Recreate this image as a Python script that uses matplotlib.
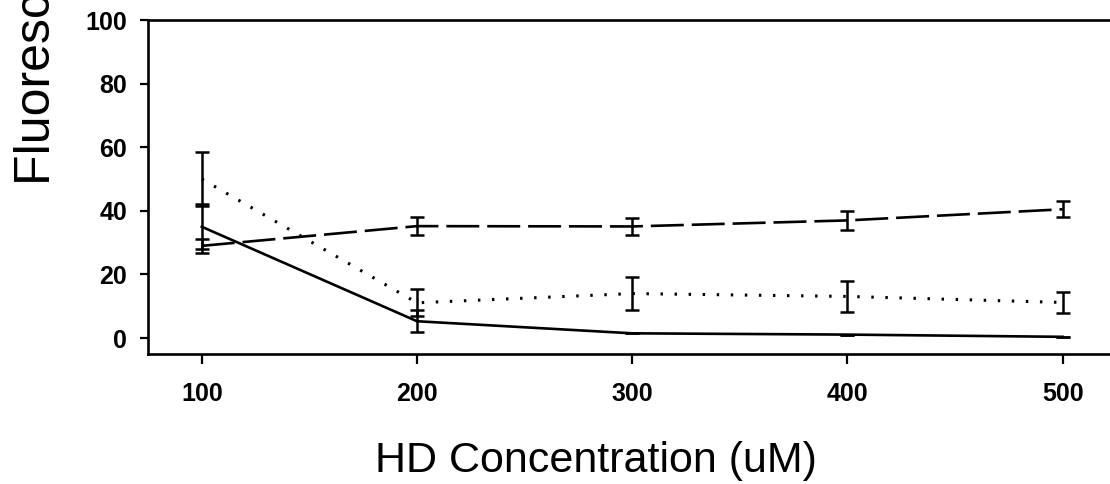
import matplotlib
matplotlib.use("Agg")
import matplotlib.pyplot as plt

# ---- data ----
concentration = [100, 200, 300, 400, 500]
solid_vals = [35.0, 5.3, 1.5, 1.1, 0.4]
solid_err = [7.0, 3.5, 0.0, 0.0, 0.0]
dotted_vals = [50.0, 11.1, 14.0, 13.1, 11.2]
dotted_err = [8.6, 4.3, 5.1, 4.9, 3.3]
dashed_vals = [29.0, 35.2, 35.1, 37.0, 40.5]
dashed_err = [2.2, 2.9, 2.6, 3.0, 2.5]
x_ticks = [100, 200, 300, 400, 500]
y_ticks = [0, 20, 40, 60, 80, 100]
x_label = "HD Concentration (uM)"
y_label = "Fluorescence (%)"

plt.rcParams['font.family'] = ['Liberation Sans', 'DejaVu Sans']

W, H = 1110, 484
fig = plt.figure(figsize=(W / 100, H / 100), dpi=100)
ax = fig.add_axes([148 / W, 1 - 354 / H, (1110 - 148) / W, (354 - 20) / H])

lw = 1.9
err_kw = dict(ecolor='black', elinewidth=1.8, capsize=4.8, capthick=1.8)

ax.errorbar(concentration, solid_vals, yerr=solid_err, color='black',
            linewidth=lw, linestyle='-', **err_kw)
ax.errorbar(concentration, dotted_vals, yerr=dotted_err, color='black',
            linewidth=2.2, linestyle=(0, (0.8, 3.8)), **err_kw)
ax.errorbar(concentration, dashed_vals, yerr=dashed_err, color='black',
            linewidth=lw, linestyle=(0, (12.5, 3.0)), **err_kw)

ax.set_xlim(75, 522)
ax.set_ylim(-5, 100)
ax.set_xticks(x_ticks)
ax.set_yticks(y_ticks)
ax.set_xticklabels([str(v) for v in x_ticks], fontsize=18, fontweight='bold')
ax.set_yticklabels([str(v) for v in y_ticks], fontsize=18, fontweight='bold')
ax.tick_params(axis='x', direction='out', length=7.5, width=1.6, pad=13)
ax.tick_params(axis='y', direction='out', length=6, width=1.6, pad=9)

for side in ['left', 'bottom', 'top']:
    ax.spines[side].set_linewidth(1.9)
ax.spines['right'].set_visible(False)

fig.text(596 / W, 1 - 472 / H, x_label, fontsize=31, ha='center', va='baseline')
fig.text(50 / W, 1 - 185 / H, y_label, fontsize=36, rotation=90,
         rotation_mode='anchor', ha='left', va='baseline')

fig.savefig("out.png", dpi=100)
